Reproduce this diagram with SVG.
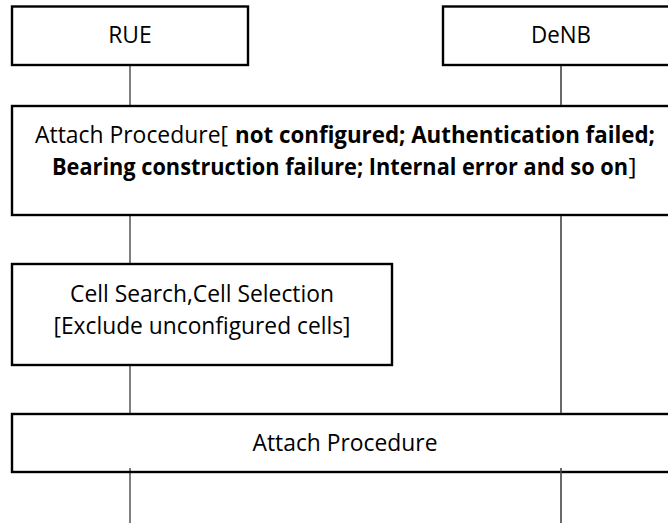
<svg xmlns="http://www.w3.org/2000/svg" width="668" height="523" viewBox="0 0 668 523">
<style>
.box{fill:#fff;stroke:#000;stroke-width:2.4}
.t{font-family:"Open Sans","Noto Sans","Liberation Sans",sans-serif;font-size:23.5px;fill:#000}
.b{font-weight:bold}
.ll1{stroke:#000;stroke-width:1}
.ll2{stroke:#444;stroke-width:1.6}
</style>
<rect width="668" height="523" fill="#fff"/>
<g id="rue">
<rect class="box" x="12" y="6.5" width="236" height="58.5"/>
<text class="t" x="130" y="43" text-anchor="middle" textLength="43.5" lengthAdjust="spacingAndGlyphs">RUE</text>
</g>
<g id="denb">
<rect class="box" x="443" y="6.5" width="236" height="58.5"/>
<text class="t" x="561" y="43" text-anchor="middle" textLength="60" lengthAdjust="spacingAndGlyphs">DeNB</text>
</g>
<g id="attach-failed">
<rect class="box" x="12" y="106" width="666" height="109"/>
<text class="t" y="143"><tspan x="35" textLength="193" lengthAdjust="spacingAndGlyphs">Attach Procedure[</tspan><tspan class="b" x="235" textLength="420" lengthAdjust="spacingAndGlyphs">not configured; Authentication failed;</tspan></text>
<text class="t" y="175"><tspan class="b" x="52" textLength="576" lengthAdjust="spacingAndGlyphs">Bearing construction failure; Internal error and so on</tspan><tspan x="628.5" textLength="8" lengthAdjust="spacingAndGlyphs">]</tspan></text>
</g>
<g id="cell-search">
<rect class="box" x="12" y="264" width="380" height="101"/>
<text class="t" x="202" y="302" text-anchor="middle" textLength="264" lengthAdjust="spacingAndGlyphs">Cell Search,Cell Selection</text>
<text class="t" x="202" y="334" text-anchor="middle" textLength="297" lengthAdjust="spacingAndGlyphs">[Exclude unconfigured cells]</text>
</g>
<g id="attach">
<rect class="box" x="12" y="414" width="666" height="58"/>
<text class="t" x="345" y="451" text-anchor="middle" textLength="185" lengthAdjust="spacingAndGlyphs">Attach Procedure</text>
</g>
<g id="connectors">
<line class="ll1" x1="130" y1="66" x2="130" y2="105"/>
<line class="ll1" x1="130" y1="216" x2="130" y2="263"/>
<line class="ll1" x1="130" y1="366" x2="130" y2="413"/>
<line class="ll1" x1="130" y1="468" x2="130" y2="523"/>
<line class="ll2" x1="561" y1="66" x2="561" y2="105"/>
<line class="ll2" x1="561" y1="216" x2="561" y2="413"/>
<line class="ll2" x1="561" y1="468" x2="561" y2="523"/>
</g>
</svg>
